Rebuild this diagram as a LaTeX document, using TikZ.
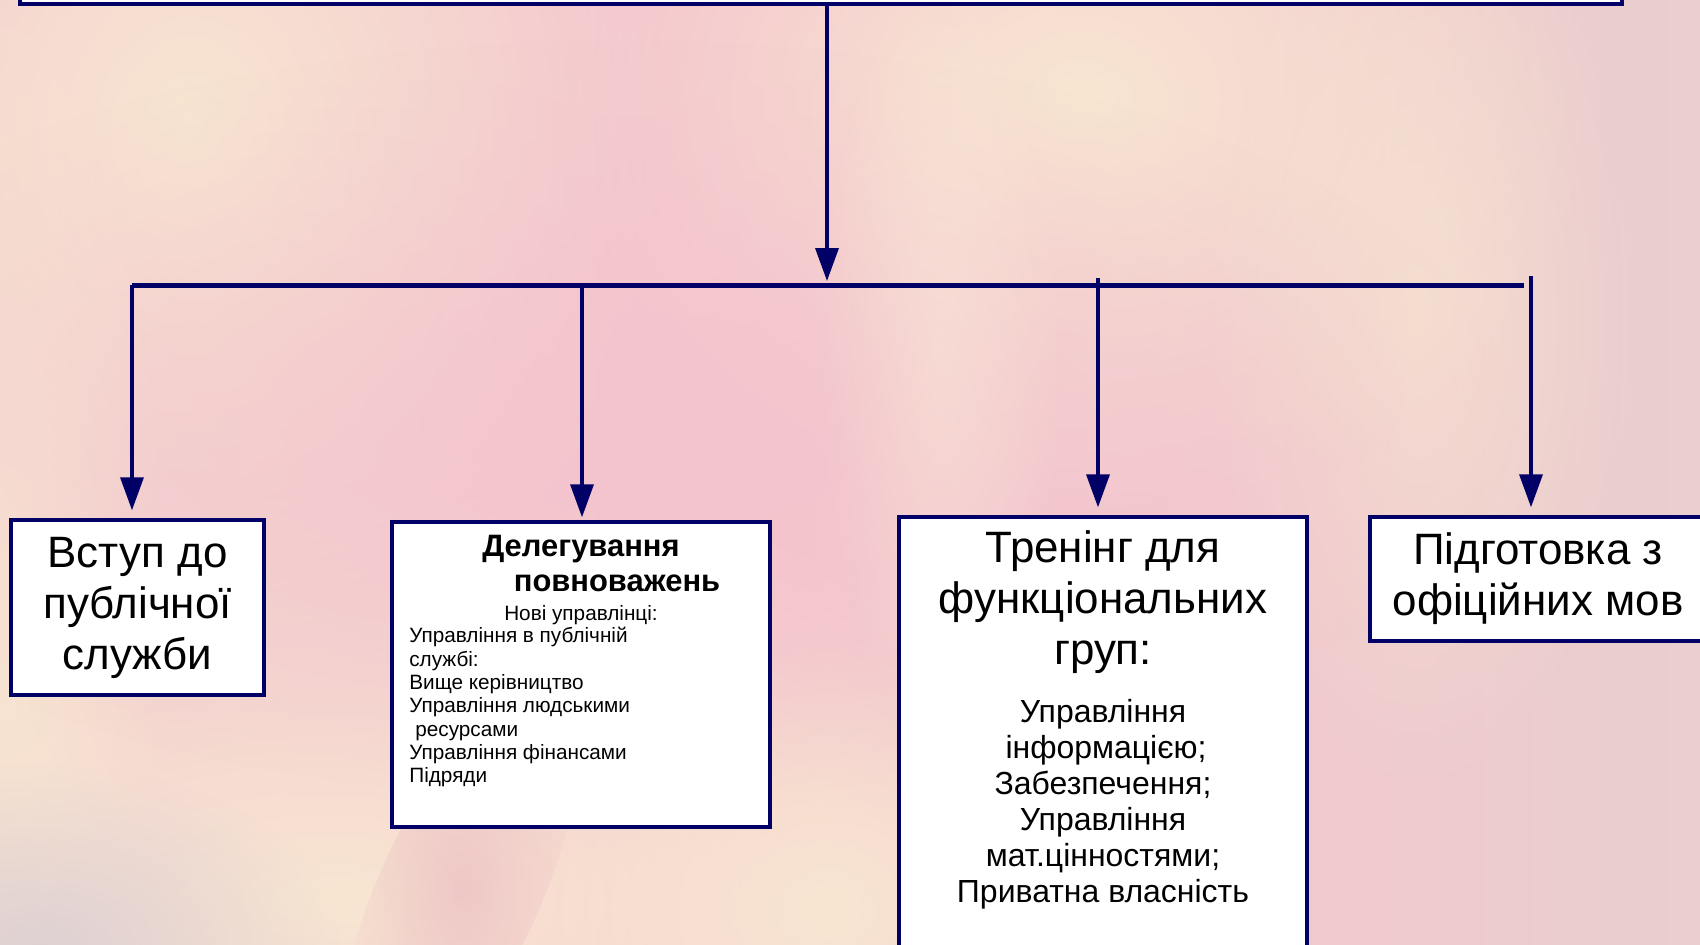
\documentclass[tikz,border=0pt]{standalone}
\usepackage{fontspec}
\setmainfont{Liberation Sans}
\usetikzlibrary{positioning, arrows.meta, fadings}

\definecolor{navyline}{HTML}{000066}
\definecolor{bgcream}{HTML}{F8E6D2}
\definecolor{bglight}{HTML}{FBEEDA}
\definecolor{bgpink}{HTML}{F3C4CD}
\definecolor{bgred}{HTML}{E6AFBC}
\definecolor{bggrey}{HTML}{D9CDD3}

\pgfdeclarehorizontalshading{petals}{100bp}{%
  color(0bp)=(rgb,255:red,248;green,232;blue,211); color(6bp)=(rgb,255:red,242;green,216;blue,208);
  color(12bp)=(rgb,255:red,239;green,203;blue,207); color(29bp)=(rgb,255:red,242;green,199;blue,207);
  color(47bp)=(rgb,255:red,245;green,197;blue,206); color(59bp)=(rgb,255:red,243;green,200;blue,207);
  color(68bp)=(rgb,255:red,237;green,202;blue,206); color(76bp)=(rgb,255:red,232;green,208;blue,207);
  color(85bp)=(rgb,255:red,230;green,214;blue,208); color(94bp)=(rgb,255:red,220;green,208;blue,208);
  color(100bp)=(rgb,255:red,214;green,205;blue,206)}

\tikzfading[name=softblob, inner color=transparent!0, outer color=transparent!100]

\begin{document}
\begin{tikzpicture}[x=0.02cm, y=-0.02cm, >={Triangle[length=0.66cm, width=0.46cm]}, shorten >=0.15cm]
    \tikzstyle{every node}=[font=\fontsize{25}{29}\selectfont, inner sep=0pt]
    \tikzstyle{box}=[draw=navyline, line width=0.09cm, fill=white, align=center]
    \tikzstyle{arrow}=[navyline, line width=0.07cm]
    \tikzstyle{blob}=[path fading=softblob]

    % background
    \clip (0,0) rectangle (1700,944);
    \shade[shading=petals] (0,0) rectangle (1700,944);
    \fill[bgcream, blob] (190,130) ellipse (480 and 580);
    \fill[bgcream, blob] (1080,100) ellipse (520 and 420);
    \fill[bglight, blob, opacity=0.9] (940,360) ellipse (120 and 380);
    \fill[bgcream, blob] (10,620) ellipse (160 and 640);
    \fill[bgcream, blob] (330,900) ellipse (900 and 420);
    \fill[bgcream, blob] (830,910) ellipse (300 and 260);
    \fill[bgcream, blob, opacity=0.7] (1420,320) ellipse (220 and 480);
    \fill[bgpink, blob, opacity=0.7] (620,420) ellipse (900 and 380);
    \fill[bgred, blob, opacity=0.5, rotate around={-25:(460,890)}] (460,890) ellipse (80 and 220);
    \fill[bggrey, blob, opacity=0.8] (40,944) ellipse (300 and 180);

    % boxes
    \node[box, minimum width=32.04cm, minimum height=0.96cm] (top) at (821,-20) {};
    \node[box, minimum width=5.06cm, minimum height=3.5cm] (vstup) at (137.5,607.5) {Вступ до\\публічної\\служби};
    \node[box, minimum width=7.56cm, minimum height=6.1cm] (deleg) at (581,674.5) {};
    \node[box, minimum width=8.16cm, minimum height=9.26cm] (trening) at (1103,748.5) {};
    \node[box, minimum width=6.72cm, minimum height=2.48cm] (mova) at (1538,579) {Підготовка з\\офіційних мов};

    % texts inside
    \node[below=0.3cm of deleg.north, align=center, font=\fontsize{17.6}{20}\selectfont\bfseries] (delegtitle)
        {Делегування\\\hspace*{1.44cm}повноважень};
    \node[below=0.26cm of delegtitle, font=\fontsize{11.8}{13.3}\selectfont] (delegsub) {Нові управлінці:};
    \node[anchor=north west, align=left, font=\fontsize{11.8}{13.3}\selectfont] (delegbody) at (409,627)
        {Управління в публічній\\службі:\\Вище керівництво\\Управління людськими\\\hspace*{0.12cm}ресурсами\\Управління фінансами\\Підряди};
    \node[below=0.32cm of trening.north, align=center] (trtitle) {Тренінг для\\функціональних\\груп:};
    \node[below=0.5cm of trtitle, align=center, font=\fontsize{18.2}{20.5}\selectfont] (trbody)
        {Управління\\\hspace*{0.12cm}інформацією;\\Забезпечення;\\Управління\\мат.цінностями;\\Приватна власність};

    % connectors
    \coordinate (hub) at (827,284);
    \coordinate (barA) at (132,285);
    \coordinate (barB) at (582,284);
    \coordinate (barC) at (1098,278);
    \coordinate (barD) at (1531,276);

    \draw[navyline, line width=0.1cm] (barA) -- (barA -| barD);
    \path[arrow, ->]
    (top.south -| hub) edge [shorten >=0.06cm] (hub)
    (barA) edge (barA |- vstup.north)
    (barB) edge [shorten >=0.05cm] (barB |- deleg.north)
    (barC) edge (barC |- trening.north)
    (barD) edge (barD |- mova.north);
\end{tikzpicture}
\end{document}
